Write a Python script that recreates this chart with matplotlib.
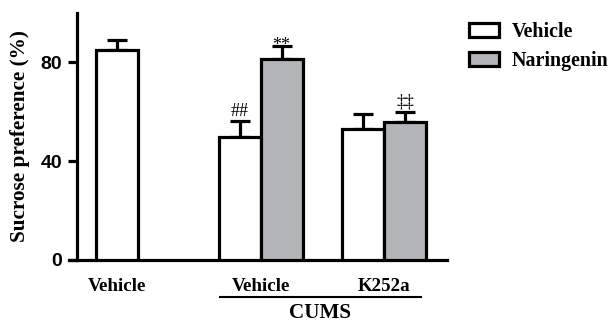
import matplotlib
matplotlib.use('Agg')
from matplotlib import pyplot as plt
from matplotlib.transforms import blended_transform_factory
import numpy as np

# data
groups = ["Vehicle", "Vehicle", "K252a"]
treat = ["Vehicle", "Naringenin"]
means = [84.9, 50.0, 81.2, 53.1, 55.8]
sems = [4.2, 6.2, 5.4, 6.2, 4.0]
marks = ["", "##", "**", "", "\u2021\u2021"]
fill = ["white", "white", "#b3b4b8", "white", "#b3b4b8"]

pos = [0.95, 3.87, 4.87, 6.81, 7.81]
serif = "Liberation Serif"
lw = 2.3
# baseline offset above the error cap (asterisks sit high in the glyph box)
mark_off = {"##": 1.9, "**": -1.7, "\u2021\u2021": 2.3}

fig = plt.figure(figsize=(6.13, 3.22), dpi=100)
ax = fig.add_axes([77/613, 62/322, 370/613, 247/322])

ax.bar(pos, means, width=1.0, color=fill, edgecolor="black", linewidth=lw, zorder=3)
ax.errorbar(pos, means, yerr=[np.zeros(len(sems)), sems], fmt="none", ecolor="black",
            elinewidth=lw, capsize=7.5, capthick=lw, zorder=2)
for x, m, s, t in zip(pos, means, sems, marks):
    if t:
        ax.text(x, m + s + mark_off[t], t, ha="center", va="baseline", fontsize=13,
                family=serif)

ax.set_xlim(0, 8.81)
ax.set_ylim(0, 100)
ax.set_yticks([0, 40, 80])
ax.set_yticklabels(["0", "40", "80"], family="Liberation Sans", fontweight="bold", fontsize=14)
ax.tick_params(axis="y", length=6.5, width=lw, pad=4)
ax.set_xticks([])
for side in ["top", "right"]:
    ax.spines[side].set_visible(False)
ax.spines["left"].set_linewidth(lw)
ax.spines["bottom"].set_linewidth(lw)
ax.spines["bottom"].set_bounds(-0.2, 8.81)

# group labels under the axis
tr = blended_transform_factory(ax.transData, ax.transAxes)
lab_x = [pos[0], (pos[1] + pos[2]) / 2, (pos[3] + pos[4]) / 2]
for x, g in zip(lab_x, groups):
    ax.text(x, -0.109, g, transform=tr, ha="center", va="center", fontsize=13.7,
            family=serif, fontweight="bold")
ax.plot([3.40, 8.19], [-0.15, -0.15], transform=tr, color="black", lw=1.5, clip_on=False)
ax.text(5.79, -0.215, "CUMS", transform=tr, ha="center", va="center", fontsize=15.2,
        family=serif, fontweight="bold")

fig.text(20/613, 1 - 136.5/322, "Sucrose preference (%)", rotation=90, ha="center",
         va="center", fontsize=15.3, family=serif, fontweight="bold")

# legend
h1 = plt.Rectangle((0, 0), 1, 1, facecolor=fill[0], edgecolor="black", linewidth=lw)
h2 = plt.Rectangle((0, 0), 1, 1, facecolor=fill[2], edgecolor="black", linewidth=lw)
fig.legend([h1, h2], treat, loc="upper left", bbox_to_anchor=(465/613, 1 - 18/322),
           frameon=False, handlelength=1.5, handleheight=0.75, handletextpad=0.65,
           labelspacing=0.45, borderpad=0.2, borderaxespad=0,
           prop={"family": serif, "weight": "bold", "size": 14.4})

fig.savefig("out.png", dpi=100)
